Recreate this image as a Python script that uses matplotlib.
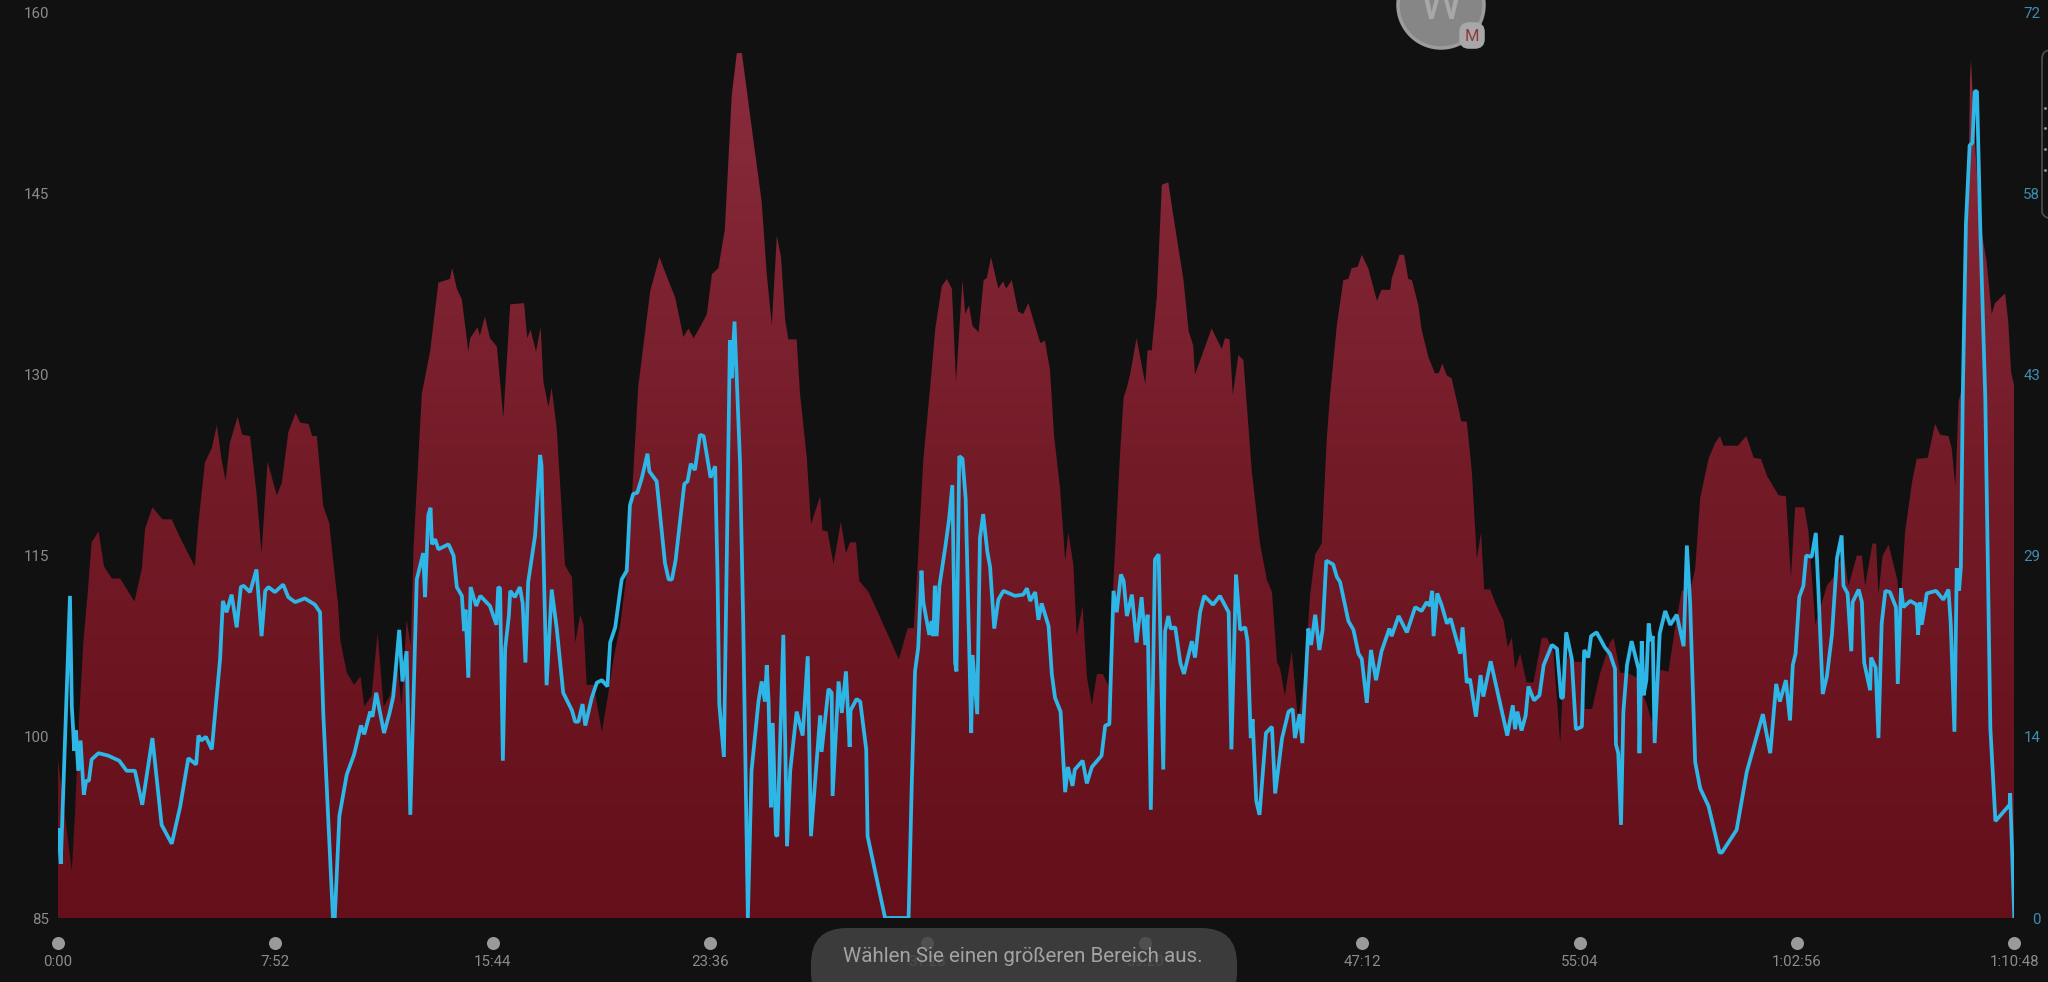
import numpy as np
import matplotlib
matplotlib.use("Agg")
import matplotlib.pyplot as plt
from matplotlib.colors import LinearSegmentedColormap
from matplotlib.patches import Circle, FancyBboxPatch

# --- data -------------------------------------------------------------
hr_time = [0,30,37,44,55,64,73,88,100,117,135,166,182,189,205,227,247,265,297,305,319,334,345,355,364,373,390,400,417,431,442,455,475,486,500,516,526,544,552,562,576,589,598,608,613,627,643,657,665,681,694,707,721,736,746,757,766,772,
 790,808,826,851,856,866,877,891,895,911,916,927,938,953,967,982,1012,1019,1026,1038,1048,1054,1065,1072,1083,1101,1116,1123,1134,1141,1148,1163,1181,1195,1206,1221,1238,1260,1286,1306,1325,1340,1358,1369,1380,1394,1409,1420,1434,1448,1463,1474,1485,1510,1528,1539,1550,1561,1570,1579,1586,1604,1611,1626,1635,1655,1660,1671,1684,1700,1711,1720,1733,1740,1760,1785,1826,1845,1858,1865,1879,1894,1905,1919,1930,1941,1950,1964,1970,1978,1986,1999,2010,2017,2026,2042,2052,2059,2071,2085,2096,2107,2133,2143,2154,2163,2176,2187,2194,2205,2212,2225,2234,2245,2256,2269,2281,2292,2306,2314,2321,2328,2342,2361,2366,2375,2386,2397,2411,2422,2444,2455,2465,2469,2505,2527,2534,2544,2551,2563,2574,2592,2610,2625,2636,2647,2654,2664,2679,2693,2708,2719,2730,2744,2755,2762,2777,2791,2802,2809,2822,2831,2845,2864,2874,2893,2896,2913,2923,2932,2940,2954,2961,2976,2990,2998,3006,3016,3026,3041,3047,3059,3070,3081,3090,3097,3110,3121,3139,3148,3157,3164,3175,3189,3204,3222,3233,3247,3262,3269,3283,3294,3309,3316,3331,3349,3370,3378,3392,3407,3428,3450,3461,3472,3497,3511,3526,3544,3555,3566,3584,3598,3609,3616,3648,3666,3682,3698,3711,3736,3752,3763,3772,3792,3801,3816,3841,3855,3877,3888,3906,3917,3924,3940,3948,3953,3962,3975,3994,4000,4011,4026,4036,4060,4076,4087,4105,4112,4120,4127,4134,4149,4152,4154,4163,4174,4188,4199,4206,4228,4235,4241,4248]
hr_values = [98.1,88.9,93.7,100.3,107.8,111.7,116.1,117,114.1,113.1,113.1,111.2,113.9,117.2,119,118,118,116.5,114.1,117.7,122.7,123.9,125.8,123,121.2,124.3,126.5,125,124.9,120.2,115.2,122.8,120,121,125.2,126.8,126,125.9,124.9,124.9,119.1,117.7,114.4,111,108,105.3,104.3,105,102.5,103.4,108.6,102.5,103.4,106.4,102.5,109.7,107.5,115.6,
 128.4,131.9,137.6,137.9,138.8,137.1,136.2,131.9,133,133.9,133.2,134.8,133,132.3,126.4,135.8,135.9,133,133.7,131.9,133.9,129.4,127.3,128.9,125.5,114.2,113.2,107.8,110.1,109.3,104.3,104.3,100.4,103.6,106.4,109.3,114.5,129,136.9,139.7,137.8,136.4,133.1,133.8,133,133.9,135,138.3,138.8,142,153.1,156.6,156.6,149.4,144.3,138.3,134.1,141.5,139.7,134.5,132.9,132.9,128.5,123.1,117.6,119.9,117.1,117,114.3,117.8,115.2,116.1,116.1,112.9,112,109.9,106.4,109,109,113.1,122.9,129,133.8,137.3,137.9,137.1,129.4,137.8,135,135.7,134,133.5,137.8,138,139.7,137.1,137.7,137.1,137.8,135.2,135,135.9,132.6,132.8,130.4,124.9,120.5,114.6,116.9,114.2,108.4,110.8,105,102.6,105.2,105.2,104.2,113,123.3,128.1,128.9,130,133,129.2,132,132,136.4,145.7,145.9,143.1,137.8,133.6,132.4,130,133.8,132.1,133,132.9,128.3,131.6,131.2,122.1,116,113,112,106.2,105.6,103.4,107.1,101.2,105.6,111.8,115.1,116,124.6,128.2,134.1,137.8,137.9,138.8,138.9,139.9,138.8,136.1,137,137,137.9,139.9,139.9,137.9,137.8,135.7,133.7,131.4,130.1,130.1,130.9,129.9,129.7,127.2,126.1,126.1,122,114.7,116.9,112.2,112.2,111.1,109.6,107.4,108.2,105.6,106.9,104.5,104.5,108.2,108.2,107.1,99.4,105.6,107.1,106.2,106.2,102.3,102.3,105.3,107.8,108.2,105.3,105.3,104.9,102.7,101.2,105.6,105.4,108.9,112.1,112.1,113.9,119.8,123,124.3,124.9,124.1,124.1,124.9,123.1,123,121.6,120,119.9,113.2,119,119,117,109.3,112.5,113.2,115.2,112.5,115,115,112.5,116,116,111.8,115,115.9,113,110.7,117,121.1,123,123.1,125.9,125,124.9,123.9,120.7,127.7,128.9,147,154.8,156,148.9,142.5,139.3,135,135.9,136.7,134.3,130.2,129]

cad_time = [1,6,26,30,33,35,39,44,49,56,61,67,73,88,109,133,149,167,183,205,225,247,265,283,300,305,311,321,334,352,358,366,377,388,397,403,417,431,442,450,457,471,489,500,515,536,558,569,576,597,601,611,627,643,658,665,678,683,691,708,720,728,741,748,757,765,779,793,797,804,809,812,819,826,848,859,866,877,882,885,891,896,908,917,938,952,956,960,966,971,979,982,992,1003,1009,1015,1021,1036,1047,1050,1056,1061,1072,1083,1097,1116,1123,1130,1139,1145,1159,1170,1181,1193,1199,1210,1224,1235,1242,1249,1258,1268,1280,1284,1300,1318,1326,1333,1341,1360,1367,1374,1383,1394,1402,1417,1427,1432,1436,1446,1459,1463,1469,1481,1488,1498,1506,1521,1528,1535,1539,1543,1548,1552,1559,1562,1575,1583,1590,1604,1617,1628,1635,1655,1658,1673,1680,1682,1695,1702,1711,1719,1721,1734,1742,1755,1758,1796,1847,1854,1861,1868,1875,1879,1892,1897,1901,1904,1908,1914,1926,1935,1942,1948,1951,1957,1964,1971,1983,1986,1996,2002,2009,2018,2024,2033,2042,2053,2078,2096,2104,2111,2122,2129,2136,2151,2158,2165,2177,2187,2193,2203,2208,2225,2234,2245,2266,2274,2283,2292,2299,2308,2314,2321,2332,2342,2353,2361,2366,2373,2382,2390,2400,2404,2411,2416,2426,2437,2445,2462,2469,2480,2489,2508,2523,2542,2548,2558,2567,2578,2583,2590,2594,2602,2609,2623,2636,2643,2658,2672,2681,2686,2696,2702,2715,2721,2730,2739,2746,2754,2769,2777,2784,2802,2813,2824,2831,2842,2851,2862,2874,2891,2896,2911,2929,2947,2961,2972,2979,2984,2987,2995,3005,3016,3024,3045,3050,3059,3066,3079,3089,3095,3111,3147,3159,3164,3169,3178,3187,3193,3205,3217,3226,3244,3255,3264,3268,3275,3287,3296,3309,3314,3323,3329,3341,3359,3370,3381,3383,3388,3394,3399,3407,3417,3432,3434,3439,3443,3449,3454,3459,3463,3467,3478,3490,3501,3515,3530,3537,3544,3555,3566,3584,3608,3613,3645,3667,3702,3718,3731,3739,3752,3761,3767,3773,3781,3790,3796,3808,3817,3824,3832,3841,3852,3863,3873,3877,3886,3894,3897,3910,3917,3922,3935,3937,3947,3953,3960,3968,3978,3991,3995,4002,4007,4022,4036,4039,4044,4047,4058,4078,4094,4105,4110,4118,4123,4128,4132,4136,4143,4151,4157,4162,4167,4174,4185,4196,4207,4238,4239,4248]
cad_values = [7,4.3,25.6,16.8,14.9,13.3,14.9,11.7,14.1,9.8,10.9,10.9,12.6,13.1,12.9,12.5,11.7,11.7,9,14.3,7.4,5.9,8.8,12.7,12.2,14.5,14.1,14.4,13.4,20.6,25.2,24.3,25.7,23.1,26.3,26.4,25.9,27.7,22.4,26,26.3,25.9,26.5,25.5,25.1,25.4,24.9,24.3,16.3,0,0,8.1,11.4,13,15.3,14.6,16.4,16,17.9,14.7,16.3,17.6,22.9,18.8,21.2,8.2,26.9,29,25.5,32,32.6,29.7,30.1,29.3,29.7,28.8,26.3,25.6,22.8,24.5,19.1,26.3,24.8,25.6,24.8,23.3,26.3,26.2,12.5,21.4,24,26,25.5,26.3,25,20.3,26.7,30.4,36.8,35.9,26,18.5,26.1,23,17.9,16.5,15.6,15.6,17,15.3,17.5,18.7,18.9,18.4,21.9,23.1,26.9,27.6,32.8,33.7,33.8,35,36.9,35.5,34.7,28.2,26.9,26.9,28.4,34.5,34.7,36.1,35.6,38.4,38.3,35,35.9,27.4,17,12.8,45.9,42.9,47.4,36.2,23.3,0,11.7,17.2,18.8,17.2,20.1,17.2,8.8,15.5,6.6,6.5,22.5,5.7,11.7,16.4,14.5,20.8,6.5,16.1,13.2,18.2,17.9,9.7,18.8,16.3,19.6,13.6,16.5,17.4,17.2,13.4,6.5,0,0,10.8,19.6,21.5,27.6,25.1,22.5,23.6,22.4,26.4,22.4,26.4,29.3,31.7,34.4,20.3,19.6,36.7,36.5,33.3,14.7,20.9,16.2,30.2,32.1,29.1,27.9,23,25.3,26,25.6,25.7,26.2,25.2,25.9,23.7,25,23.2,19.4,17.5,16.4,10,12,10.5,11.8,12.5,10.7,12,12.9,15.3,15.4,26,24.3,27.3,26.8,24,25.7,21.9,25.5,21.7,24.1,8.6,28.5,28.9,11.8,22.8,24,23,23.1,20.3,19.4,22,20.7,24.3,25.6,24.9,25.6,24.3,13.4,27.3,22.9,23.1,22,14.3,15.8,9.3,8.2,14.7,15.2,9.9,14.3,16.4,16.6,14.3,16.2,13.9,23,21.7,24.1,21.3,22.9,28.4,28.1,27.1,26.7,23.6,22.9,21,20.6,17.1,21.3,18.9,21.2,23,22.4,24,22.7,24.7,24.4,25.1,24.8,26,22.4,25.8,24.8,23.4,23.8,21,23.1,18.7,19,16,19.3,17.6,20.4,14.5,16.9,15,16.4,14.9,16.1,18.4,17.3,17.7,20.1,21.7,21.4,17.5,17.5,22.7,20.6,15,15.2,21.3,20.7,22.4,22.7,21.5,21,19.8,13.8,13.1,7.4,16.3,20.1,22,19.8,13.1,22,17.7,18.9,23.4,22,22.4,13.9,22.6,24.4,23.3,24.1,21.6,29.6,25.1,12.4,10.3,8.9,5.2,5.2,7,11.6,16.2,13.1,18.6,17.2,18.9,15.7,20.1,21,25.5,26.4,28.8,28.7,30.6,24.9,17.8,19.2,22.5,28.6,30.4,26.4,25.8,21.2,25.1,26.1,25.1,20.3,18.1,20.7,19.9,14.3,23.4,26,25.9,24.7,18.6,26.2,24.7,25.2,24.9,22.5,25.1,23.3,25.8,26,25.3,26.1,23.4,14.8,27.8,26,27.9,41.3,55.2,61.4,61.6,65.7,65.7,55,41.3,15.1,7.7,9,9.9,0]

x_tick_seconds = [0,472,944,1416,1888,2360,2832,3304,3776,4248]
x_tick_labels = ["0:00","7:52","15:44","23:36","31:28","39:20","47:12","55:04","1:02:56","1:10:48"]
hr_ticks = [85,100,115,130,145,160]
cad_ticks = [0,14.4,28.8,43.2,57.6,72]
cad_tick_labels = ["0","14","29","43","58","72"]

# --- style ------------------------------------------------------------
BG = "#111111"
W, H = 2048, 982
plt.rcParams["font.family"] = ["Roboto", "DejaVu Sans"]

fig = plt.figure(figsize=(W/100, H/100), dpi=100, facecolor=BG)
L, R, T, B = 58, 2014.3, 12, 918
ax = fig.add_axes([L/W, (H-B)/H, (R-L)/W, (B-T)/H], facecolor=BG)

grad = np.linspace(0, 1, 256).reshape(-1, 1)
cmap = LinearSegmentedColormap.from_list("hr", ["#640f1a", "#741b28", "#8c2d3f"])
im = ax.imshow(grad, extent=[0, 4248, 85, 160], origin="lower", aspect="auto", cmap=cmap, zorder=1)
poly = ax.fill_between(hr_time, hr_values, 85, color="none", lw=0)
im.set_clip_path(poly.get_paths()[0], transform=ax.transData)
ax.set_xlim(0, 4248)
ax.set_ylim(85, 160)
ax.set_yticks(hr_ticks)
ax.set_xticks(x_tick_seconds, x_tick_labels)
ax.tick_params(axis="y", length=0, pad=6.5, labelsize=10.8, labelcolor="#8b8b8b")
ax.tick_params(axis="x", length=0, pad=27, labelsize=10.8, labelcolor="#8b8b8b")
for s in ax.spines.values():
    s.set_visible(False)
ax.scatter(x_tick_seconds, [-0.028]*len(x_tick_seconds), s=88, c="#9a9a9a", lw=0,
           transform=ax.get_xaxis_transform(), clip_on=False, zorder=3)

ax2 = ax.twinx()
ax2.set_ylim(0, 72)
ax2.set_yticks(cad_ticks, cad_tick_labels)
ax2.tick_params(axis="y", length=0, pad=18.7, labelsize=10.8, labelcolor="#3d8db0")
for l in ax2.get_yticklabels():
    l.set_ha("right")
for s in ax2.spines.values():
    s.set_visible(False)
ax2.patch.set_visible(False)
ax2.plot(cad_time, cad_values, color="#2db6e6", lw=2.7, solid_joinstyle="bevel", zorder=4)

# --- screen overlays (pixel coordinates) ------------------------------
ov = fig.add_axes([0, 0, 1, 1], facecolor="none")
ov.set_xlim(0, W); ov.set_ylim(H, 0); ov.axis("off")

ov.add_patch(Circle((1441, 5), 43, fc="#868686", ec="#9c9c9c", lw=2.5))
ov.text(1441, 5, "W", color="#a8a8a8", fontsize=36, ha="center", va="center")
ov.add_patch(FancyBboxPatch((1462, 25), 20, 21, boxstyle="round,pad=0,rounding_size=7",
                            fc="#a8a8a8", ec="#a8a8a8", lw=4))
ov.text(1472, 36, "M", color="#8e3a3a", fontsize=12, ha="center", va="center")

ov.add_patch(FancyBboxPatch((2042, 50), 30, 170, boxstyle="round,pad=0,rounding_size=9",
                            fc="none", ec="#4e4e4e", lw=1.2))
ov.scatter([2045]*4, [108, 128, 149, 170], s=4, c="#9a9a9a", lw=0)

ov.add_patch(FancyBboxPatch((811, 928), 426, 80, boxstyle="round,pad=0,rounding_size=36",
                            fc="#434343", ec="none", alpha=0.86))
ov.text(1023, 957, "Wählen Sie einen größeren Bereich aus.", color="#a3a3a3", fontsize=14.8,
        ha="center", va="center")

fig.savefig("out.png", dpi=100, facecolor=BG)
